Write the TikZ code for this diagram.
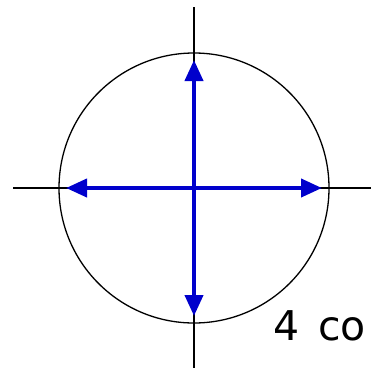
\documentclass[tikz,border=0pt]{standalone}
\usepackage{fontspec}
\setmainfont{DejaVu Sans}
\usepackage{xcolor}
\definecolor{vecblue}{HTML}{0000CC}
\usepackage{tikz}
\usetikzlibrary{arrows.meta}

\begin{document}
\begin{tikzpicture}[x=1pt, y=1pt,
                   axis/.style={draw=black, line width=1.3pt},
                   rim/.style={draw=black, line width=1.3pt},
                   vec/.style={draw=vecblue, line width=4pt,
                               -{Triangle[length=21pt, width=18pt]}},
                   lbl/.style={font=\fontsize{41}{41}\selectfont, inner sep=0pt, anchor=base west}]
    \useasboundingbox (0,0) rectangle (371,368);
    \coordinate (o) at (194,180);
    \coordinate (n) at (194,361);
    \coordinate (s) at (194,0);
    \coordinate (w) at (13,180);
    \coordinate (e) at (371,180);
    \coordinate (vn) at (194,308);
    \coordinate (vs) at (194,52);
    \coordinate (vw) at (66,180);
    \coordinate (ve) at (322,180);
    \draw[axis] (n) -- (s);
    \draw[axis] (w) -- (e);
    \draw[rim] (o) circle[radius=135];
    \draw[vec] (o) -- (vn);
    \draw[vec] (o) -- (vs);
    \draw[vec] (o) -- (vw);
    \draw[vec] (o) -- (ve);
    \node[lbl] (cap) at (273,28) {4 \hspace{6pt}co};
\end{tikzpicture}
\end{document}
